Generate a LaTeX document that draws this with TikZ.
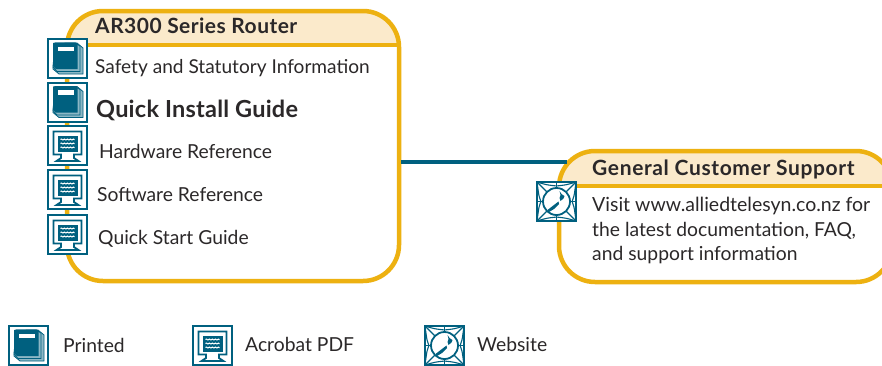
\documentclass[tikz,border=0pt]{standalone}
\usepackage{fontspec}
\usetikzlibrary{decorations.pathmorphing}
\setmainfont{Lato}
\definecolor{gold}{HTML}{EDB111}
\definecolor{headfill}{HTML}{FBEACB}
\definecolor{teal1}{HTML}{00607F}
\definecolor{ink}{HTML}{2B2829}
\tikzset{
  x=1pt,y=-1pt,
  panel/.style={draw=gold,line width=4.5pt,rounded corners=36pt},
  rule/.style={draw=gold,line width=4.5pt},
  link/.style={draw=teal1,line width=3.4pt},
  label/.style={anchor=base west,inner sep=0pt,text=ink,font=\fontsize{19.3}{23}\selectfont},
  boldlabel/.style={label,font=\fontsize{21}{24}\selectfont\bfseries\addfontfeature{LetterSpace=2.2}},
  pics/printed/.style={code={
    \draw[teal1,line width=2pt,fill=white] (1,1) rectangle (40,40);
    \draw[teal1,line width=.8pt,fill=teal1!45] (8,5) -- (30,5) -- (36,10) -- (36,36) -- (12,36) -- (6,31) -- cycle;
    \draw[teal1,line width=.8pt,fill=teal1!45] (8,5) -- (28,5) -- (33,8) -- (33,33.5) -- (10,33.5) -- (6,29) -- cycle;
    \fill[teal1] (6,5) -- (29,4.5) -- (30.5,6) -- (30.5,31) -- (9,31) -- (6,28) -- cycle;
    \fill[white] (11,8.5) rectangle (27,13);
  }},
  pics/pdf/.style={code={
    \draw[teal1,line width=2pt,fill=white] (1,1) rectangle (40,40);
    \draw[teal1,line width=1.8pt] (6.5,6.5) -- (34.5,6.5) -- (34.5,29.5) -- (27,29.5) -- (27,33) -- (31.5,36) -- (9.5,36) -- (14,33) -- (14,29.5) -- (6.5,29.5) -- cycle;
    \fill[teal1] (10.5,10.5) rectangle (30.5,26.5);
    \foreach \yy in {14.5,18.5,22.5}
      \draw[white,line width=1pt,decorate,decoration={snake,amplitude=.45pt,segment length=3pt}] (13.5,\yy) -- (27.5,\yy);
  }},
  pics/web/.style={code={
    \draw[teal1,line width=2.2pt,fill=white] (1.1,1.1) rectangle (40,40);
    \foreach \a/\b/\c/\d in {1/1/21/5,40/1/20/5,1/40/21/36,40/40/20/36,1/1/5/21,1/40/5/20,40/1/36/21,40/40/36/20}
      \draw[teal1,line width=1.1pt] (\a,\b) .. controls (\a*.5+\c*.5,\b*.25+\d*.75) .. (\c,\d);
    \foreach \a/\b/\c/\d in {1/1/11/11,40/1/30/11,1/40/11/30,40/40/30/30,20.5/1/20.5/7,20.5/40/20.5/34,1/20.5/7/20.5,40/20.5/34/20.5}
      \draw[teal1,line width=1.2pt] (\a,\b) -- (\c,\d);
    \draw[teal1,line width=1.8pt,fill=white] (20.5,20.5) circle[radius=13.5];
    \fill[teal1] (23.5,10) -- (25.5,13) -- (28.5,15) -- (27.5,17.5) -- (24.5,20) -- (23.5,17) -- (24.5,14) -- cycle;
    \fill[teal1] (22.5,20.5) -- (23,23) -- (18,28) -- (13,31) -- (11.5,29) -- (16,25.5) -- cycle;
  }}
}
\begin{document}
\begin{tikzpicture}
\useasboundingbox (0,0) rectangle (882,365);
\clip (0,0) rectangle (882,365);
\fill[white] (0,0) rectangle (882,365);
% left panel
\begin{scope}
  \clip[rounded corners=36pt] (67,11) rectangle (399,281);
  \fill[headfill] (67,11) rectangle (399,45);
\end{scope}
\draw[rule] (67,45) -- (399,45);
\node[panel,minimum width=332pt,minimum height=270pt,inner sep=0pt] (router) at (233,146) {};
% right panel
\begin{scope}
  \clip[rounded corners=36pt] (559,151) rectangle (892,282);
  \fill[headfill] (559,151) rectangle (892,186);
\end{scope}
\draw[rule] (559,186) -- (892,186);
\node[panel,minimum width=333pt,minimum height=131pt,inner sep=0pt] (support) at (725.5,216.5) {};
% connector
\coordinate (jr) at (router.east |- 0,162);
\coordinate (js) at (567,162);
\draw[link] (jr) -- (js);
% icons
\pic at (47,38) {printed};
\pic at (47,81.5) {printed};
\pic at (47,125) {pdf};
\pic at (47,169) {pdf};
\pic at (47,214) {pdf};
\pic at (536,181) {web};
\pic at (8,325) {printed};
\pic at (192,325) {pdf};
\pic at (424,325) {web};
% texts
\node[boldlabel] (t0) at (95,33) {AR300 Series Router};
\node[label,font=\fontsize{19.1}{23}\selectfont] (t1) at (95,73) {Safety and Statutory Information};
\node[label,font=\fontsize{23.5}{26}\selectfont\bfseries\addfontfeature{LetterSpace=1}] (t2) at (96,117) {Quick Install Guide};
\node[label] (t3) at (99,158) {Hardware Reference};
\node[label] (t4) at (97,201) {Software Reference};
\node[label] (t5) at (98,244) {Quick Start Guide};
\node[boldlabel,font=\fontsize{21}{24}\selectfont\bfseries\addfontfeature{LetterSpace=3}] (t6) at (592,175) {General Customer Support};
\node[label,font=\fontsize{19.5}{23}\selectfont] (t7) at (592,211) {Visit www.alliedtelesyn.co.nz for};
\node[label] (t8) at (592,236) {the latest documentation, FAQ,};
\node[label] (t9) at (592,260) {and support information};
\node[label] (t10) at (63,352) {Printed};
\node[label] (t11) at (245,351) {Acrobat PDF};
\node[label] (t12) at (477,351) {Website};
\end{tikzpicture}
\end{document}
